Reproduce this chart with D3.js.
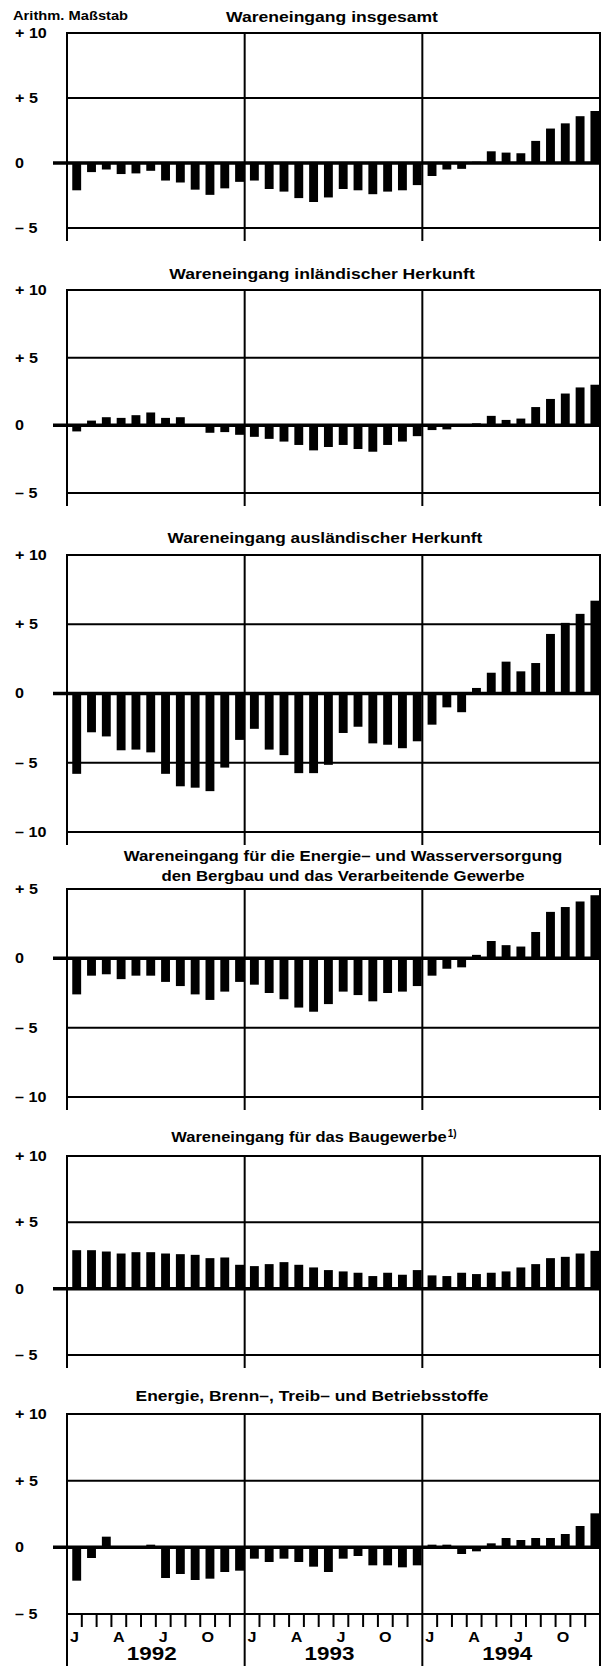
<!DOCTYPE html>
<html><head><meta charset="utf-8">
<script src="https://cdn.jsdelivr.net/npm/d3@7"></script>
<style>
body{margin:0;background:#fff}
svg{display:block}
text{font-family:"Liberation Sans",Arial,Helvetica,sans-serif;font-weight:bold;fill:#000}
</style>
</head><body>
<svg id="chart" width="602" height="1666"></svg>
<script>
// ---------- DATA ----------
const years = ["1992", "1993", "1994"];
const monthCodes = ["J","F","M","A","M","J","J","A","S","O","N","D"];
const shownMonthLabels = ["J", "A", "J", "O"];
const shownMonthIndex = [0, 3, 6, 9];

const scaleNote = "Arithm. Maßstab";

const titles = [
  ["Wareneingang insgesamt"],
  ["Wareneingang inländischer Herkunft"],
  ["Wareneingang ausländischer Herkunft"],
  ["Wareneingang für die Energie– und Wasserversorgung", "den Bergbau und das Verarbeitende Gewerbe"],
  ["Wareneingang für das Baugewerbe"],
  ["Energie, Brenn–, Treib– und Betriebsstoffe"]
];
const titleFootnote = ["", "", "", "", "1)", ""];

const ticksA = [10, 5, 0, -5];
const ticksB = [10, 5, 0, -5, -10];
const ticksC = [5, 0, -5, -10];

// Monthly values Jan 1992 – Dec 1994
const insgesamt = [
  -2.1, -0.7, -0.5, -0.85, -0.8, -0.6, -1.35, -1.5, -2.05, -2.45, -1.95, -1.45,
  -1.35, -2.0, -2.2, -2.7, -3.0, -2.65, -2.0, -2.1, -2.4, -2.2, -2.1, -1.7,
  -1.0, -0.5, -0.45, 0.1, 0.9, 0.8, 0.75, 1.7, 2.65, 3.05, 3.6, 4.0
];
const inlaendisch = [
  -0.45, 0.35, 0.6, 0.55, 0.75, 0.95, 0.55, 0.6, 0.0, -0.55, -0.5, -0.7,
  -0.85, -1.0, -1.2, -1.45, -1.85, -1.6, -1.45, -1.75, -1.95, -1.45, -1.2, -0.8,
  -0.35, -0.3, 0.05, 0.15, 0.7, 0.4, 0.5, 1.35, 1.95, 2.35, 2.8, 3.0
];
const auslaendisch = [
  -5.8, -2.8, -3.1, -4.1, -4.05, -4.25, -5.8, -6.7, -6.8, -7.05, -5.35, -3.35,
  -2.55, -4.05, -4.45, -5.75, -5.75, -5.15, -2.85, -2.4, -3.6, -3.7, -3.95, -3.45,
  -2.25, -1.0, -1.35, 0.4, 1.5, 2.3, 1.6, 2.2, 4.3, 5.1, 5.75, 6.7
];
const energieBergbau = [
  -2.6, -1.25, -1.15, -1.5, -1.25, -1.25, -1.7, -2.0, -2.6, -3.0, -2.4, -1.7,
  -1.9, -2.5, -2.95, -3.55, -3.85, -3.3, -2.4, -2.65, -3.1, -2.5, -2.4, -2.0,
  -1.25, -0.75, -0.65, 0.25, 1.25, 0.95, 0.85, 1.9, 3.35, 3.7, 4.1, 4.55
];
const baugewerbe = [
  2.9, 2.9, 2.8, 2.65, 2.75, 2.75, 2.65, 2.6, 2.55, 2.3, 2.35, 1.8,
  1.7, 1.85, 2.0, 1.8, 1.6, 1.4, 1.3, 1.2, 0.95, 1.2, 1.05, 1.4,
  1.0, 0.95, 1.2, 1.1, 1.2, 1.3, 1.6, 1.85, 2.3, 2.4, 2.65, 2.85
];
const energieStoffe = [
  -2.5, -0.8, 0.8, -0.1, -0.1, 0.2, -2.3, -2.0, -2.45, -2.35, -1.85, -1.75,
  -0.85, -1.1, -0.85, -1.1, -1.45, -1.85, -0.85, -0.65, -1.35, -1.35, -1.5, -1.35,
  0.2, 0.2, -0.5, -0.3, 0.3, 0.7, 0.55, 0.7, 0.7, 1.0, 1.6, 2.55
];

const seriesList = [insgesamt, inlaendisch, auslaendisch, energieBergbau, baugewerbe, energieStoffe];
const tickList = [ticksA, ticksA, ticksB, ticksC, ticksA, ticksA];

// ---------- LAYOUT ----------
const X0 = 67, X1 = 600;
const layout = [
  {top: 33,   bottom: 228,  titleX: 332, titleY: [22],        stretch: 1.17},
  {top: 290,  bottom: 493,  titleX: 322, titleY: [279],       stretch: 1.17},
  {top: 555,  bottom: 832,  titleX: 325, titleY: [543],       stretch: 1.15},
  {top: 889,  bottom: 1097, titleX: 343, titleY: [861, 881],  stretch: 1.12},
  {top: 1156, bottom: 1355, titleX: 309, titleY: [1142],      stretch: 1.10},
  {top: 1414, bottom: 1614, titleX: 312, titleY: [1401],      stretch: 1.16}
];

// ---------- DRAW ----------
const svg = d3.select("#chart");
const categories = years.flatMap(y => monthCodes.map((m, i) => y + "-" + (i + 1)));
const x = d3.scaleBand().domain(categories).range([X0, X1]).paddingInner(0.4).paddingOuter(0.2);
const xYear = d3.scaleBand().domain(years).range([X0, X1]);
const xEdge = d3.scaleLinear().domain([0, categories.length]).range([X0, X1]);
const barShift = 2.3;

function stretch(sel, k) {
  sel.each(function () {
    const w = this.getComputedTextLength();
    d3.select(this).attr("textLength", w * k).attr("lengthAdjust", "spacingAndGlyphs");
  });
}
const fmt = v => v > 0 ? "+ " + v : (v < 0 ? "– " + (-v) : "0");

seriesList.forEach((vals, p) => {
  const L = layout[p];
  const ticks = tickList[p];
  const dom = d3.extent(ticks);
  const y = d3.scaleLinear().domain(dom).range([L.bottom, L.top]);
  const g = svg.append("g");

  // inner grid lines
  g.selectAll("line.grid").data(ticks.filter(v => v !== 0 && v !== dom[0] && v !== dom[1]))
    .join("line").attr("class", "grid")
    .attr("x1", X0).attr("x2", X1).attr("y1", d => y(d)).attr("y2", d => y(d))
    .attr("stroke", "#000").attr("stroke-width", 2);

  // year dividers
  g.selectAll("line.yr").data(years.slice(1)).join("line").attr("class", "yr")
    .attr("x1", d => xYear(d)).attr("x2", d => xYear(d))
    .attr("y1", L.top).attr("y2", L.bottom)
    .attr("stroke", "#000").attr("stroke-width", 2);

  // bars
  g.selectAll("rect.bar").data(vals).join("rect").attr("class", "bar")
    .attr("x", (d, i) => x(categories[i]) + barShift)
    .attr("width", x.bandwidth())
    .attr("y", d => y(Math.max(0, d)))
    .attr("height", d => Math.abs(y(d) - y(0)))
    .attr("fill", "#000");

  // zero line
  g.append("line").attr("x1", 53).attr("x2", X1).attr("y1", y(0)).attr("y2", y(0))
    .attr("stroke", "#000").attr("stroke-width", 3.5);

  // frame
  g.append("rect").attr("x", X0).attr("y", L.top).attr("width", X1 - X0).attr("height", L.bottom - L.top)
    .attr("fill", "none").attr("stroke", "#000").attr("stroke-width", 2);

  // y axis labels
  const ax = g.append("g").attr("transform", `translate(${X0},0)`)
    .call(d3.axisLeft(y).tickValues(ticks).tickSize(0).tickFormat(fmt));
  ax.select(".domain").remove();
  ax.selectAll("text").attr("x", 15 - X0).attr("text-anchor", "start")
    .attr("font-size", 14).attr("font-family", null).attr("fill", "#000")
    .call(stretch, 1.15);

  // title
  titles[p].forEach((t, k) => {
    const tt = g.append("text").attr("x", L.titleX).attr("y", L.titleY[k])
      .attr("text-anchor", "middle").attr("font-size", 15).text(t).call(stretch, L.stretch);
    if (titleFootnote[p] && k === titles[p].length - 1) {
      const bb = tt.node().getBBox();
      g.append("text").attr("x", bb.x + bb.width + 1).attr("y", L.titleY[k] - 5)
        .attr("font-size", 10).text(titleFootnote[p]);
    }
  });

  const last = p === seriesList.length - 1;
  // year ticks below frame
  g.selectAll("line.ytick").data(d3.range(years.length + 1)).join("line").attr("class", "ytick")
    .attr("x1", i => xEdge(i * 12)).attr("x2", i => xEdge(i * 12))
    .attr("y1", L.bottom).attr("y2", last ? 1666 : L.bottom + 13)
    .attr("stroke", "#000").attr("stroke-width", 2);

  if (last) {
    // month ticks
    g.selectAll("line.mtick").data(d3.range(1, categories.length).filter(i => i % 12 !== 0))
      .join("line").attr("class", "mtick")
      .attr("x1", i => xEdge(i)).attr("x2", i => xEdge(i))
      .attr("y1", L.bottom).attr("y2", L.bottom + 13)
      .attr("stroke", "#000").attr("stroke-width", 2);
    // month labels
    years.forEach(yr => {
      shownMonthIndex.forEach((mi, k) => {
        const c = yr + "-" + (mi + 1);
        g.append("text").attr("x", x(c) + x.bandwidth() / 2).attr("y", 1642)
          .attr("text-anchor", "middle").attr("font-size", 14).text(shownMonthLabels[k]).call(stretch, 1.15);
      });
      g.append("text").attr("x", xYear(yr) + xYear.bandwidth() / 2 - 4).attr("y", 1660)
        .attr("text-anchor", "middle").attr("font-size", 19).text(yr).call(stretch, 1.18);
    });
  }
});

// scale note
svg.append("text").attr("x", 13).attr("y", 20).attr("font-size", 13).text(scaleNote).call(stretch, 1.13);
</script>
</body></html>
